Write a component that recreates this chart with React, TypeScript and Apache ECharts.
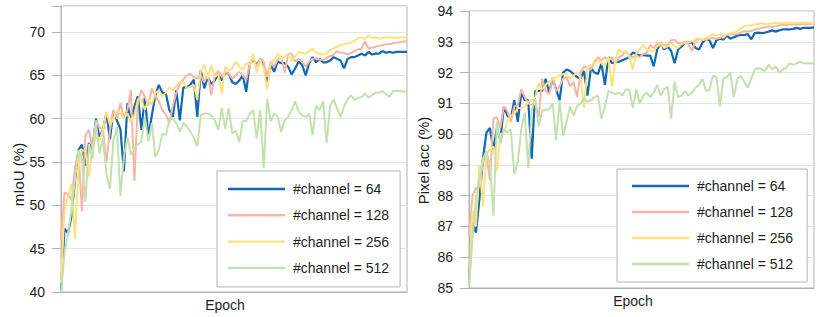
import React, { useEffect, useRef } from "react";
import * as echarts from "echarts";

const seriesNames = ["#channel = 64", "#channel = 128", "#channel = 256", "#channel = 512"];
const colors = ["#0f69b4", "#f8b5a5", "#ffe27d", "#c3e1ae"];

const epochs = Array.from({ length: 100 }, (_, i) => String(i + 1));

// mIoU (%)
const miou64 = [
  40, 47.3, 46.8, 48.7, 52.9, 56.4, 57.0, 54.6, 57.2, 56.3,
  60.0, 57.9, 58.7, 60.7, 57.6, 60.9, 59.8, 58.8, 53.9, 61.8,
  59.7, 61.4, 62.6, 58.7, 62.5, 57.9, 60.4, 62.7, 63.9, 63.0,
  62.9, 61.0, 60.2, 63.3, 59.8, 63.6, 63.6, 63.9, 64.5, 60.2,
  65.6, 63.5, 64.8, 64.0, 64.4, 65.2, 64.4, 65.3, 65.2, 64.2,
  64.0, 64.4, 65.0, 63.1, 66.4, 66.8, 66.2, 66.8, 66.2, 64.2,
  66.2, 65.4, 66.6, 66.4, 66.4, 66.0, 65.1, 65.8, 66.6, 66.2,
  65.0, 66.4, 67.1, 66.5, 66.9, 66.5, 66.5, 66.7, 67.1, 66.9,
  66.7, 65.8, 66.9, 67.1, 67.1, 67.3, 67.5, 67.3, 67.7, 67.4,
  67.5, 67.5, 67.8, 67.6, 67.7, 67.6, 67.7, 67.7, 67.7, 67.7,
];
const miou128 = [
  46.0, 51.5, 51.3, 50.6, 54.4, 56.4, 49.3, 58.1, 58.7, 56.7,
  59.8, 59.0, 58.8, 55.0, 58.6, 61.0, 60.0, 61.8, 60.0, 61.0,
  63.3, 52.8, 62.0, 63.3, 62.5, 61.5, 63.5, 62.6, 62.0, 61.0,
  60.5, 59.5, 61.5, 63.0, 64.0, 64.5, 65.0, 65.2, 64.8, 64.6,
  65.0, 64.2, 65.2, 62.7, 65.0, 65.5, 64.8, 65.4, 65.2, 64.6,
  65.0, 65.4, 65.0, 64.5, 66.2, 67.0, 66.0, 67.0, 66.6, 64.8,
  66.6, 66.0, 66.8, 67.2, 65.3, 67.5, 67.5, 66.6, 66.9, 66.6,
  66.0, 66.6, 66.9, 67.0, 66.8, 66.8, 67.0, 67.2, 67.4, 67.8,
  67.6, 67.6, 67.4, 67.6, 67.8, 68.0, 68.1, 68.9, 68.1, 68.2,
  68.3, 68.4, 68.5, 68.6, 68.6, 68.7, 68.8, 68.8, 68.9, 68.9,
];
const miou256 = [
  41.0, 49.4, 51.0, 52.5, 46.1, 54.4, 56.4, 56.2, 53.3, 56.7,
  57.9, 57.5, 58.7, 60.8, 59.3, 60.0, 61.0, 60.6, 60.0, 60.6,
  59.7, 60.4, 62.2, 62.2, 61.0, 62.2, 61.6, 63.0, 63.2, 62.6,
  63.0, 63.6, 63.3, 63.8, 64.2, 64.2, 63.5, 63.7, 63.9, 62.2,
  65.5, 66.2, 64.6, 66.2, 64.8, 65.2, 62.9, 66.0, 65.5, 65.8,
  66.6, 66.0, 65.6, 66.4, 66.2, 67.5, 65.3, 66.8, 65.8, 63.4,
  66.3, 66.8, 67.5, 66.9, 67.2, 67.5, 66.6, 67.2, 67.7, 67.6,
  67.5, 67.8, 68.1, 67.6, 67.5, 67.4, 67.5, 67.9, 68.1, 68.3,
  68.5, 68.6, 68.7, 68.8, 69.0, 69.3, 69.4, 69.2, 69.6, 69.3,
  69.4, 69.2, 69.3, 69.4, 69.4, 69.3, 69.3, 69.4, 69.4, 69.3,
];
const miou512 = [
  40.0, 44.4, 46.7, 49.5, 53.0, 56.4, 55.3, 50.4, 57.1, 55.3,
  59.6, 56.0, 57.7, 53.6, 51.9, 57.5, 59.0, 51.1, 55.6, 57.9,
  55.8, 56.7, 57.0, 57.4, 60.2, 57.4, 59.5, 55.6, 56.4, 58.3,
  58.1, 59.8, 60.0, 59.5, 58.5, 59.5, 59.1, 58.5, 57.8, 56.8,
  60.4, 60.6, 60.6, 60.4, 59.8, 58.7, 61.2, 58.8, 61.2, 58.3,
  58.6, 57.3, 59.8, 59.7, 60.6, 61.0, 57.7, 61.0, 54.3, 62.3,
  59.7, 60.6, 60.2, 58.5, 59.8, 60.2, 61.0, 62.0, 60.8, 60.4,
  60.2, 60.6, 58.1, 61.5, 61.0, 62.0, 57.2, 61.5, 62.2, 61.2,
  60.2, 61.4, 62.2, 62.7, 62.2, 62.4, 62.5, 62.9, 62.4, 62.7,
  63.0, 63.0, 63.2, 62.8, 62.5, 63.2, 63.2, 63.2, 63.1, 63.2,
];

// Pixel acc (%)
const acc64 = [
  85.2, 87.1, 86.8, 87.9, 89.2, 90.05, 90.2, 89.5, 90.2, 89.8,
  90.9, 90.6, 90.5, 91.1, 90.4, 91.35, 91.1, 91.1, 89.2, 91.4,
  91.4, 91.4, 91.8, 91.35, 91.8, 91.45, 91.1, 92.0, 92.1, 92.05,
  91.95, 91.85, 91.8, 92.05, 91.25, 92.15, 92.0, 91.95, 92.3, 91.6,
  92.5, 92.3, 92.35, 92.35, 92.4, 92.45, 92.5, 92.65, 92.6, 92.55,
  92.57, 92.55, 92.55, 92.2, 92.75, 92.97, 92.75, 92.85, 92.7, 92.3,
  92.75, 92.85, 92.97, 92.97, 92.97, 92.8, 92.75, 92.97, 93.1, 93.05,
  92.8, 93.05, 93.1, 93.07, 93.2, 93.1, 93.15, 93.2, 93.22, 93.22,
  93.25, 93.08, 93.28, 93.3, 93.28, 93.3, 93.33, 93.37, 93.33, 93.37,
  93.4, 93.4, 93.4, 93.42, 93.45, 93.42, 93.45, 93.45, 93.45, 93.47,
];
const acc128 = [
  86.7, 88.0, 88.25, 88.3, 89.1, 89.3, 88.5, 90.5, 90.55, 90.2,
  90.9, 90.75, 90.4, 90.9, 90.95, 91.45, 91.2, 91.0, 90.95, 91.0,
  90.55, 91.8, 91.4, 91.3, 91.85, 91.4, 91.55, 91.8, 91.85, 91.55,
  91.7, 91.2, 92.0, 92.2, 92.15, 92.1, 92.35, 92.5, 92.4, 92.5,
  92.4, 92.5, 92.3, 92.5, 92.55, 92.7, 92.55, 92.5, 92.55, 92.5,
  92.6, 92.65, 92.9, 92.8, 92.95, 92.85, 92.9, 92.9, 93.05, 93.07,
  92.95, 92.95, 93.0, 92.9, 92.7, 93.05, 93.1, 93.05, 93.08, 93.1,
  93.12, 93.1, 93.12, 93.2, 93.23, 93.25, 93.23, 93.25, 93.3, 93.34,
  93.33, 93.35, 93.4, 93.42, 93.45, 93.47, 93.5, 93.48, 93.5, 93.53,
  93.55, 93.54, 93.56, 93.57, 93.56, 93.57, 93.58, 93.57, 93.58, 93.6,
];
const acc256 = [
  85.1, 87.5, 87.0, 89.0, 87.65, 89.35, 89.5, 89.6, 88.8, 90.0,
  90.05, 90.4, 90.6, 90.65, 90.85, 90.85, 90.9, 91.05, 91.1, 91.2,
  91.65, 91.45, 91.6, 91.7, 91.8, 91.85, 91.9, 91.95, 91.95, 91.8,
  91.9, 92.0, 91.9, 90.85, 92.15, 92.25, 92.3, 92.4, 92.3, 92.2,
  92.5, 91.55, 92.4, 92.75, 92.65, 92.7, 92.5, 92.1, 92.6, 92.75,
  92.9, 92.75, 92.7, 92.7, 92.85, 92.97, 92.8, 92.85, 92.97, 92.85,
  92.8, 92.93, 92.97, 92.97, 93.02, 92.97, 93.08, 93.08, 93.13, 93.17,
  93.24, 93.2, 93.24, 93.13, 93.24, 93.27, 93.3, 93.35, 93.42, 93.5,
  93.53, 93.53, 93.56, 93.58, 93.6, 93.58, 93.58, 93.6, 93.62, 93.6,
  93.6, 93.62, 93.62, 93.6, 93.62, 93.62, 93.62, 93.62, 93.62, 93.62,
];
const acc512 = [
  85.05, 86.6, 87.9, 88.6, 89.2, 89.45, 89.0, 87.35, 90.4, 89.7,
  90.15, 90.05, 90.15, 88.7, 89.1, 90.15, 90.7, 88.9, 90.75, 91.15,
  90.25, 90.75, 90.8, 90.8, 91.0, 89.8, 91.1, 89.95, 90.4, 90.9,
  90.6, 90.9, 91.0, 91.15, 91.05, 91.1, 91.2, 91.25, 90.5, 90.9,
  91.4, 91.35, 91.3, 91.35, 91.25, 91.45, 91.45, 90.85, 91.45, 91.0,
  91.25, 91.35, 91.2, 91.35, 91.6, 91.25, 91.45, 91.55, 90.5, 91.7,
  91.2, 91.25, 91.4, 91.25, 91.35, 91.5, 91.6, 91.8, 91.4, 91.45,
  91.9, 91.85, 90.9, 91.8, 91.85, 92.0, 91.2, 91.8, 91.9, 91.7,
  91.5, 91.8, 92.1, 92.15, 92.1, 92.05, 92.26, 92.1, 92.2, 92.0,
  92.1, 92.15, 92.3, 92.25, 92.3, 92.35, 92.3, 92.3, 92.3, 92.3,
];

const FONT = '"Liberation Sans", Arial, sans-serif';
const TEXT = "#1e1e1e";
const FRAME = "#b3b3b3";
const GRIDLINE = "#e4e4e4";

export default function App() {
  const ref = useRef<HTMLDivElement>(null);

  useEffect(() => {
    if (!ref.current) return;
    const chart = echarts.init(ref.current, null, { renderer: "svg" });

    const leftData = [miou64, miou128, miou256, miou512];
    const rightData = [acc64, acc128, acc256, acc512];

    const mkX = (gridIndex: number) => ({
      type: "category",
      gridIndex,
      data: epochs,
      boundaryGap: false,
      axisLine: { show: true, lineStyle: { color: FRAME, width: 1 } },
      axisTick: { show: false },
      axisLabel: { show: false },
      splitLine: { show: false },
    });

    const mkY = (gridIndex: number, min: number, max: number, interval: number) => ({
      type: "value",
      gridIndex,
      min,
      max,
      interval,
      axisLine: { show: true, lineStyle: { color: FRAME, width: 1 } },
      axisTick: { show: true, inside: false, length: 9, lineStyle: { color: FRAME, width: 1 } },
      axisLabel: {
        show: true,
        margin: 16,
        fontSize: 14,
        fontFamily: FONT,
        color: TEXT,
        formatter: (v: number) => (Math.abs(v / interval - Math.round(v / interval)) < 1e-6 ? String(v) : ""),
      },
      splitLine: { show: true, lineStyle: { color: GRIDLINE, width: 1 } },
    });

    const series: any[] = [];
    const addSeries = (data: number[][], axisIndex: number) => {
      data.forEach((d, k) => {
        series.push({
          name: seriesNames[k],
          type: "line",
          xAxisIndex: axisIndex,
          yAxisIndex: axisIndex,
          data: d,
          symbol: "none",
          showSymbol: false,
          lineStyle: { color: colors[k], width: k === 0 ? 2.2 : 2 },
          itemStyle: { color: colors[k] },
        });
      });
    };
    addSeries(leftData, 0);
    addSeries(rightData, 1);

    const legendBase = {
      orient: "vertical",
      icon: "rect",
      itemWidth: 57,
      itemHeight: 2.4,
      borderColor: FRAME,
      borderWidth: 1,
      borderRadius: 0,
      backgroundColor: "#ffffff",
      selectedMode: false,
      textStyle: { fontSize: 14, lineHeight: 14, fontFamily: FONT, color: TEXT, padding: [0, 0, 0, 3] },
      data: seriesNames,
    };

    chart.setOption({
      animation: false,
      backgroundColor: "#ffffff",
      grid: [
        { left: 61, top: 6, width: 346, height: 286, show: true, borderColor: FRAME, borderWidth: 1, backgroundColor: "transparent" },
        { left: 469, top: 11, width: 345, height: 277, show: true, borderColor: FRAME, borderWidth: 1, backgroundColor: "transparent" },
      ],
      xAxis: [mkX(0), mkX(1)],
      yAxis: [mkY(0, 40, 73, 5), mkY(1, 85, 94, 1)],
      legend: [
        { ...legendBase, left: 217, top: 171, padding: [11, 11, 12, 11], itemGap: 12.3 },
        { ...legendBase, left: 617, top: 169, padding: [10, 14, 11, 15], itemGap: 12 },
      ],
      graphic: [
        {
          type: "text",
          x: 18,
          y: 174.5,
          rotation: Math.PI / 2,
          style: { text: "mIoU (%)", font: `15px ${FONT}`, fill: TEXT, textAlign: "center", textVerticalAlign: "middle" },
        },
        {
          type: "text",
          x: 423,
          y: 160.5,
          rotation: Math.PI / 2,
          style: { text: "Pixel acc (%)", font: `15px ${FONT}`, fill: TEXT, textAlign: "center", textVerticalAlign: "middle" },
        },
        {
          type: "text",
          x: 225,
          y: 305,
          style: { text: "Epoch", font: `14px ${FONT}`, fill: TEXT, textAlign: "center", textVerticalAlign: "middle" },
        },
        {
          type: "text",
          x: 633,
          y: 301,
          style: { text: "Epoch", font: `14px ${FONT}`, fill: TEXT, textAlign: "center", textVerticalAlign: "middle" },
        },
      ],
      series,
    });

    return () => chart.dispose();
  }, []);

  return (
    <div
      ref={ref}
      style={{ position: "absolute", left: 0, top: 0, width: 822, height: 317 }}
    />
  );
}
